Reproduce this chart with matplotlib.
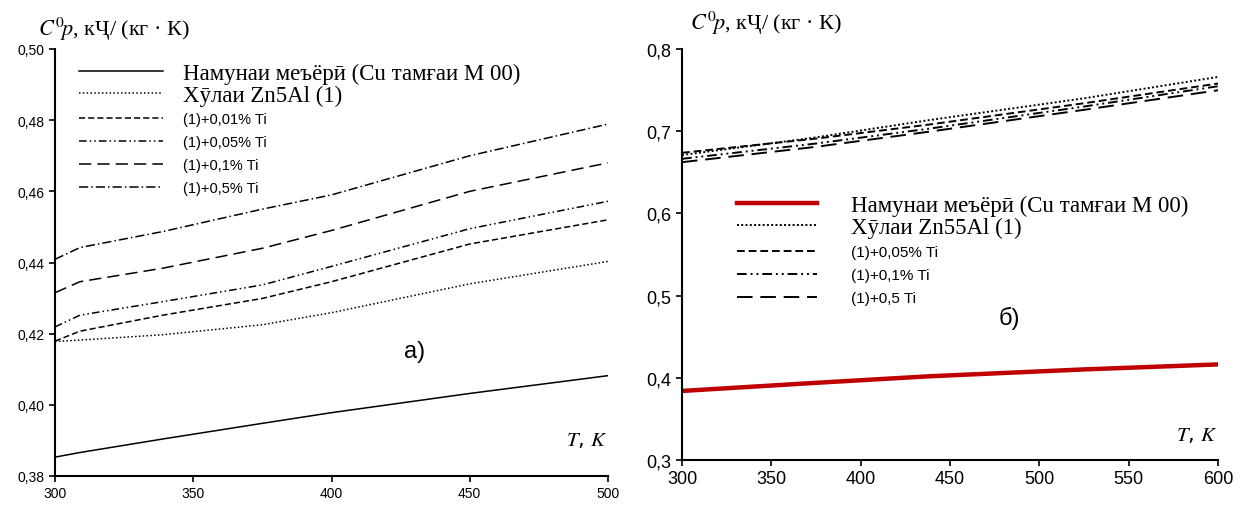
import numpy as np
import matplotlib.pyplot as plt

plt.rcParams['mathtext.fontset'] = 'stix'

# ---- panel a) : Zn5Al alloys ----
t_a = [300, 309, 339, 375, 400, 450, 500]
cp_base_a = [0.3853, 0.3866, 0.3904, 0.3948, 0.3978, 0.4032, 0.4082]
cp_zn5al = [0.4178, 0.4182, 0.4197, 0.4225, 0.4259, 0.4340, 0.4403]
cp_a_001 = [0.4179, 0.4207, 0.4252, 0.4299, 0.4346, 0.4452, 0.4520]
cp_a_005 = [0.4219, 0.4252, 0.4290, 0.4337, 0.4389, 0.4495, 0.4572]
cp_a_01 = [0.4315, 0.4346, 0.4384, 0.4440, 0.4490, 0.4600, 0.4680]
cp_a_05 = [0.4409, 0.4442, 0.4487, 0.4550, 0.4590, 0.4700, 0.4789]

labels_a = ['Намунаи меъёрӣ (Cu тамғаи М 00)', 'Хӯлаи Zn5Al (1)',
            '(1)+0,01% Ti', '(1)+0,05% Ti', '(1)+0,1% Ti', '(1)+0,5% Ti']
xticks_a = [300, 350, 400, 450, 500]
yticks_a = [0.38, 0.40, 0.42, 0.44, 0.46, 0.48, 0.50]
yticklabels_a = ['0,38', '0,40', '0,42', '0,44', '0,46', '0,48', '0,50']

# ---- panel б) : Zn55Al alloys ----
t_b = [300, 375, 438, 525, 600]
cp_base_b = [0.3840, 0.3939, 0.4018, 0.4102, 0.4163]
cp_zn55al = [0.6710, 0.6925, 0.7134, 0.7400, 0.7660]
cp_b_005 = [0.6737, 0.6910, 0.7080, 0.7340, 0.7580]
cp_b_01 = [0.6664, 0.6850, 0.7030, 0.7300, 0.7547]
cp_b_05 = [0.6623, 0.6810, 0.6993, 0.7260, 0.7498]

labels_b = ['Намунаи меъёрӣ (Cu тамғаи М 00)', 'Хӯлаи Zn55Al (1)',
            '(1)+0,05% Ti', '(1)+0,1% Ti', '(1)+0,5 Ti']
xticks_b = [300, 350, 400, 450, 500, 550, 600]
yticks_b = [0.3, 0.4, 0.5, 0.6, 0.7, 0.8]
yticklabels_b = ['0,3', '0,4', '0,5', '0,6', '0,7', '0,8']

W, H = 1256, 510
fig = plt.figure(figsize=(W / 100, H / 100), dpi=100)

serif = ['Liberation Serif', 'DejaVu Serif']
sans = ['Liberation Sans', 'DejaVu Sans']


def style_axes(ax, tick_size):
    for s in ['top', 'right']:
        ax.spines[s].set_visible(False)
    for s in ['left', 'bottom']:
        ax.spines[s].set_linewidth(1.5)
    ax.tick_params(direction='out', length=4, width=1.2, labelsize=tick_size)
    for lab in ax.get_xticklabels() + ax.get_yticklabels():
        lab.set_family(sans)


def split_legend(ax, handles, labels, n_big, x_px, y1_px, y2_px, big, small,
                 hlen_px, pad_px, sp_big, sp_small):
    fs_big_px = big * 100 / 72
    fs_small_px = small * 100 / 72
    leg1 = ax.legend(handles[:n_big], labels[:n_big], loc='upper left',
                     bbox_to_anchor=(x_px / W, 1 - y1_px / H), bbox_transform=fig.transFigure,
                     frameon=False, borderpad=0, borderaxespad=0,
                     prop={'family': serif, 'size': big},
                     handlelength=hlen_px / fs_big_px, handletextpad=pad_px / fs_big_px,
                     labelspacing=sp_big)
    ax.add_artist(leg1)
    ax.legend(handles[n_big:], labels[n_big:], loc='upper left',
              bbox_to_anchor=(x_px / W, 1 - y2_px / H), bbox_transform=fig.transFigure,
              frameon=False, borderpad=0, borderaxespad=0,
              prop={'family': sans, 'size': small},
              handlelength=hlen_px / fs_small_px, handletextpad=pad_px / fs_small_px,
              labelspacing=sp_small)


# ---------------- left panel ----------------
ax1 = fig.add_axes([55 / W, 1 - 477 / H, 553 / W, 427 / H])
lw = 1.1
h = []
h += ax1.plot(t_a, cp_base_a, color='black', lw=lw, ls='-')
h += ax1.plot(t_a, cp_zn5al, color='black', lw=lw, ls=(0, (1, 1.5)))
h += ax1.plot(t_a, cp_a_001, color='black', lw=lw, ls=(0, (4, 2)))
h += ax1.plot(t_a, cp_a_005, color='black', lw=lw, ls=(0, (5, 2, 1, 2, 1, 2)))
h += ax1.plot(t_a, cp_a_01, color='black', lw=lw, ls=(0, (8, 4)))
h += ax1.plot(t_a, cp_a_05, color='black', lw=lw, ls=(0, (6, 2, 1, 2)))
ax1.set_xlim(300, 500)
ax1.set_ylim(0.38, 0.50)
ax1.set_xticks(xticks_a)
ax1.set_yticks(yticks_a)
ax1.set_yticklabels(yticklabels_a)
style_axes(ax1, 10)
split_legend(ax1, h, labels_a, 2, 79, 64, 113, 16.5, 10.5, 84, 20, 0.02, 0.62)

fig.text(38 / W, 1 - 29 / H, r'$C^{0}\!p$, кҶ/ (кг · К)', family=serif,
         fontsize=16, va='center', ha='left')
ax1.text(430, 0.4151, 'a)', family=sans, fontsize=17, ha='center', va='center')
ax1.text(500, 0.3905, r'$T$, $K$', fontsize=15, ha='right', va='center')

# ---------------- right panel ----------------
ax2 = fig.add_axes([682 / W, 1 - 461 / H, 536 / W, 411 / H])
lw2 = 1.4
g = []
g += ax2.plot(t_b, cp_base_b, color='#c00000', lw=3.2, ls='-')
g += ax2.plot(t_b, cp_zn55al, color='black', lw=lw2, ls=(0, (1, 1.2)))
g += ax2.plot(t_b, cp_b_005, color='black', lw=lw2, ls=(0, (4, 2)))
g += ax2.plot(t_b, cp_b_01, color='black', lw=lw2, ls=(0, (5, 2, 1, 2, 1, 2)))
g += ax2.plot(t_b, cp_b_05, color='black', lw=lw2, ls=(0, (8, 4)))
ax2.set_xlim(300, 600)
ax2.set_ylim(0.3, 0.8)
ax2.set_xticks(xticks_b)
ax2.set_yticks(yticks_b)
ax2.set_yticklabels(yticklabels_b)
style_axes(ax2, 13)
split_legend(ax2, g, labels_b, 2, 737, 196, 246, 16.5, 11, 80, 34, 0.02, 0.6)

fig.text(690 / W, 1 - 23 / H, r'$C^{0}\!p$, кҶ/ (кг · К)', family=serif,
         fontsize=16, va='center', ha='left')
ax2.text(483, 0.4735, 'б)', family=sans, fontsize=17, ha='center', va='center')
ax2.text(600, 0.3315, r'$T$, $K$', fontsize=15, ha='right', va='center')

fig.savefig('out.png', dpi=100)
